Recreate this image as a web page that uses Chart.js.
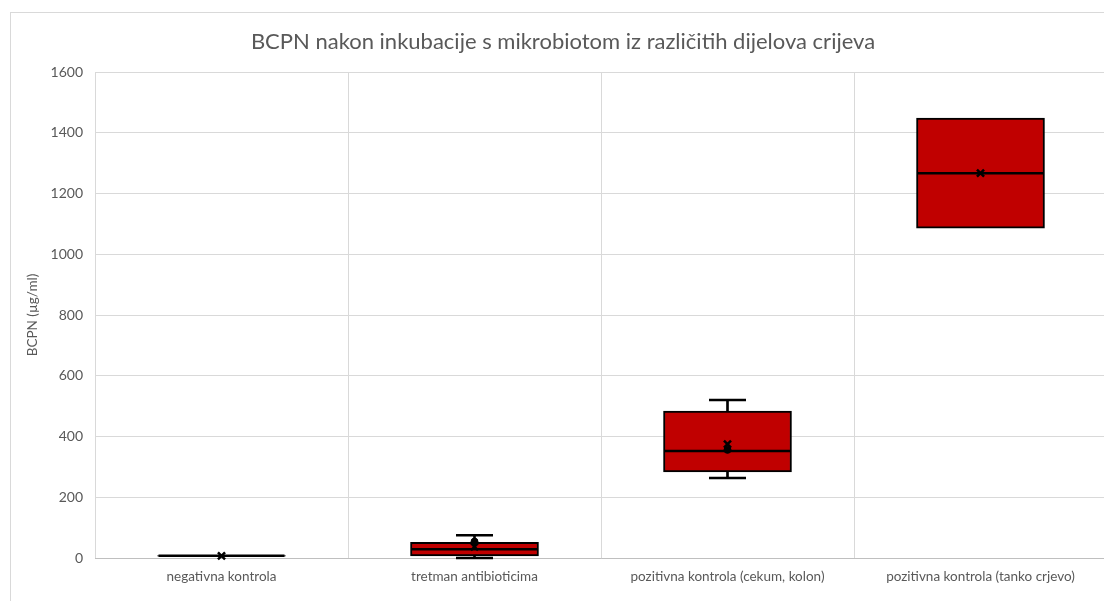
<!DOCTYPE html>
<html>
<head>
<meta charset="utf-8">
<script src="https://cdn.jsdelivr.net/npm/chart.js@4"></script>
<style>
  html, body { margin: 0; padding: 0; background: #fff; overflow: hidden; }
  #wrap { position: relative; width: 1104px; height: 601px; overflow: hidden; }
  #frame { position: absolute; left: 10px; top: 12px; width: 1200px; height: 700px;
           border-left: 1px solid #d9d9d9; border-top: 1px solid #d9d9d9; }
  canvas { position: absolute; left: 0; top: 0; }
</style>
</head>
<body>
<div id="wrap">
  <div id="frame"></div>
  <canvas id="c" width="1115" height="601" style="width:1115px;height:601px"></canvas>
</div>
<script>
const categories = ['negativna kontrola', 'tretman antibioticima', 'pozitivna kontrola (cekum, kolon)', 'pozitivna kontrola (tanko crjevo)'];
const minVals    = [6, 0, 263, null];
const q1Vals     = [6, 7, 283, 1086];
const medianVals = [7, 29, 352, 1267];
const q3Vals     = [8, 52, 484, 1448];
const maxVals    = [8, 75, 520, null];
const meanVals   = [7, 37, 375, 1267];
const innerPoints = [null, 54, 356, null];
const yTicks = { min: 0, max: 1600, step: 200 };
const chartTitle = 'BCPN nakon inkubacije s mikrobiotom iz različitih dijelova crijeva';
const yTitle = 'BCPN (µg/ml)';

const boxes = categories.map((_, i) => [q1Vals[i], q3Vals[i]]);
const upperStems = categories.map((_, i) => maxVals[i] == null ? null : [q3Vals[i], maxVals[i]]);
const lowerStems = categories.map((_, i) => minVals[i] == null ? null : [minVals[i], q1Vals[i]]);
const upperCaps = categories.map((_, i) => (maxVals[i] == null || maxVals[i] === q3Vals[i]) ? null : maxVals[i]);
const lowerCaps = categories.map((_, i) => (minVals[i] == null || minVals[i] === q1Vals[i]) ? null : minVals[i]);

const FONT = 'Lato, "Open Sans", sans-serif';
const GREY = '#595959';

function pointSet(data, style, radius, width, fill, order) {
  return {
    type: 'line', data: data, showLine: false, pointStyle: style,
    pointRadius: radius, pointHoverRadius: radius, pointBorderWidth: width,
    pointBorderColor: '#000', pointBackgroundColor: fill, borderColor: '#000',
    order: order, clip: false
  };
}

new Chart(document.getElementById('c'), {
  type: 'bar',
  data: {
    labels: categories,
    datasets: [
      { data: upperStems, backgroundColor: '#000', borderWidth: 0, barThickness: 2, grouped: false, order: 6 },
      { data: lowerStems, backgroundColor: '#000', borderWidth: 0, barThickness: 2, grouped: false, order: 6 },
      { data: boxes, backgroundColor: '#c00000', borderColor: '#000', borderWidth: 2, borderSkipped: false,
        barThickness: 128, grouped: false, order: 5 },
      pointSet(medianVals, 'line', 63, 2.5, '#000', 3),
      pointSet(upperCaps, 'line', 18.5, 2.5, '#000', 3),
      pointSet(lowerCaps, 'line', 18.5, 2.5, '#000', 3),
      pointSet(innerPoints, 'circle', 3.5, 1, '#000', 2),
      pointSet(meanVals, 'crossRot', 5, 2.5, '#000', 1)
    ]
  },
  options: {
    responsive: false,
    animation: false,
    events: [],
    layout: { autoPadding: false, padding: { left: 19, right: 8, top: 0, bottom: 0 } },
    plugins: {
      legend: { display: false },
      tooltip: { enabled: false },
      title: {
        display: true, text: chartTitle, color: GREY,
        font: { family: FONT, size: 22, weight: 'normal' },
        padding: { top: 29, bottom: 16.6 }
      }
    },
    scales: {
      x: {
        offset: true,
        grid: { display: true, offset: true, color: '#d9d9d9', drawTicks: false },
        border: { display: true, color: '#bfbfbf', width: 1 },
        ticks: { color: GREY, font: { family: FONT, size: 13.5 }, padding: 11, maxRotation: 0, autoSkip: false },
        afterFit: s => { s.height = 43; }
      },
      y: {
        min: yTicks.min, max: yTicks.max,
        grid: { color: '#d9d9d9', drawTicks: false },
        border: { display: false },
        ticks: { stepSize: yTicks.step, color: GREY, font: { family: FONT, size: 14 }, padding: 12,
                 callback: v => String(v) },
        title: { display: true, text: yTitle, color: GREY, font: { family: FONT, size: 13.5 }, padding: { top: 6, bottom: 0 } },
        afterFit: s => { s.width = 76; }
      }
    }
  }
});
</script>
</body>
</html>
